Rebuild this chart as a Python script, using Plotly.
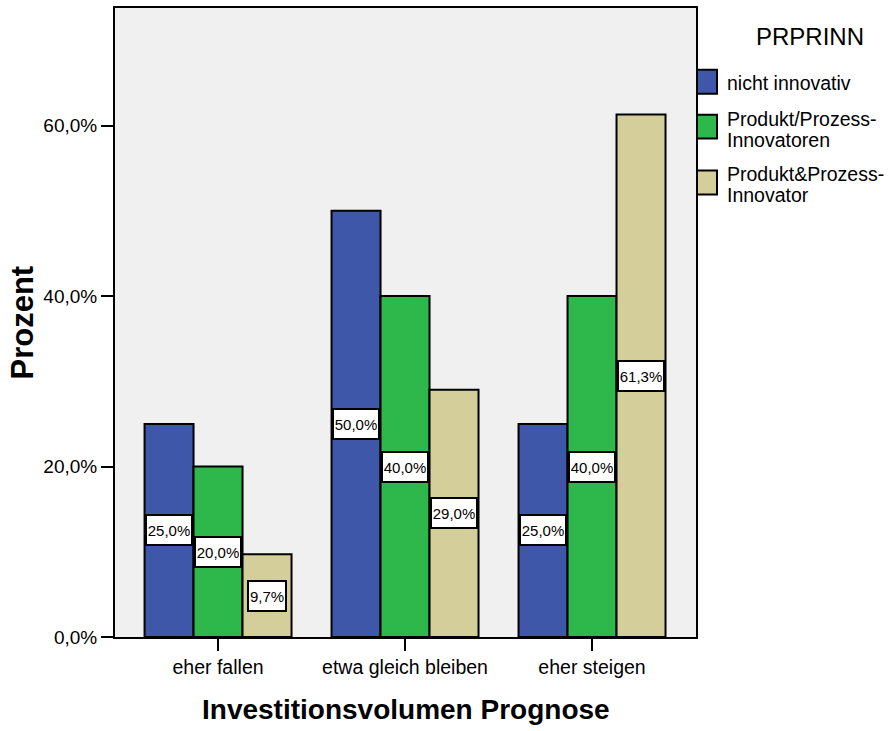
import plotly.graph_objects as go

# Investment-volume forecast by innovation type (percent within group)
categories = ["eher fallen", "etwa gleich bleiben", "eher steigen"]
series_names = ["nicht innovativ", "Produkt/Prozess-Innovatoren", "Produkt&Prozess-Innovator"]
legend_lines = [["nicht innovativ"], ["Produkt/Prozess-", "Innovatoren"], ["Produkt&Prozess-", "Innovator"]]
nicht_innovativ = [25.0, 50.0, 25.0]
produkt_oder_prozess = [20.0, 40.0, 40.0]
produkt_und_prozess = [9.7, 29.0, 61.3]
y_ticks = [0, 20, 40, 60]
y_tick_labels = ["0,0%", "20,0%", "40,0%", "60,0%"]
legend_title = "PRPRINN"
x_title = "Investitionsvolumen Prognose"
y_title = "Prozent"

colors = ["#3E57A8", "#2EB74B", "#D4CF9A"]
series_values = [nicht_innovativ, produkt_oder_prozess, produkt_und_prozess]

FONT = "Liberation Sans, Arial, sans-serif"
W, H = 889, 731
M = dict(l=115, r=193, t=6, b=94)
plot_w = W - M["l"] - M["r"]
plot_h = H - M["t"] - M["b"]

bargap = 0.214
bar_w = (1 - bargap) / len(series_values)

fig = go.Figure()
for name, vals, col in zip(series_names, series_values, colors):
    fig.add_trace(go.Bar(
        x=categories, y=vals, name=name,
        marker=dict(color=col, line=dict(color="black", width=2)),
        showlegend=False, hoverinfo="x+y",
    ))


def fmt(v):
    return f"{v:.1f}".replace(".", ",") + "%"


annotations = []
# value boxes at mid-height of each bar
for si, vals in enumerate(series_values):
    offset = (si - (len(series_values) - 1) / 2) * bar_w
    for ci, v in enumerate(vals):
        label = fmt(v)
        annotations.append(dict(
            x=ci + offset, y=v / 2, xref="x", yref="y",
            text=label, showarrow=False,
            font=dict(family=FONT, size=15, color="black"),
            bgcolor="white", bordercolor="black", borderwidth=2, borderpad=1,
            width=42 if len(label) > 4 else 34, height=26,
            xanchor="center", yanchor="middle",
        ))

# axis titles
annotations.append(dict(
    x=0.5, y=0, xref="paper", yref="paper", yshift=-72,
    text=f"<b>{x_title}</b>", showarrow=False,
    font=dict(family=FONT, size=28, color="black"),
    xanchor="center", yanchor="middle",
))
annotations.append(dict(
    x=0, y=0.5, xref="paper", yref="paper", xshift=-93,
    text=f"<b>{y_title}</b>", showarrow=False, textangle=-90,
    font=dict(family=FONT, size=31, color="black"),
    xanchor="center", yanchor="middle",
))

# legend drawn beside the plot frame
def px_x(px):
    return (px - M["l"]) / plot_w


def px_y(py):
    return 1 - (py - M["t"]) / plot_h


annotations.append(dict(
    x=px_x(810), y=px_y(35), xref="paper", yref="paper",
    text=legend_title, showarrow=False,
    font=dict(family=FONT, size=24, color="black"),
    xanchor="center", yanchor="middle",
))

shapes = []
swatch_tops = [68, 113, 169]
line_centers = [[81], [117, 138], [173, 194]]
for col, top, lines, centers in zip(colors, swatch_tops, legend_lines, line_centers):
    shapes.append(dict(
        type="rect", xref="paper", yref="paper",
        x0=px_x(697), x1=px_x(717), y0=px_y(top), y1=px_y(top + 24),
        fillcolor=col, line=dict(color="black", width=2),
    ))
    for txt, cy in zip(lines, centers):
        annotations.append(dict(
            x=px_x(725), y=px_y(cy), xref="paper", yref="paper",
            text=txt, showarrow=False,
            font=dict(family=FONT, size=19.5, color="black"),
            xanchor="left", yanchor="middle",
        ))

fig.update_layout(
    width=W, height=H, margin=M,
    paper_bgcolor="white", plot_bgcolor="#F0F0F0",
    barmode="group", bargap=bargap, bargroupgap=0,
    font=dict(family=FONT, size=19.5, color="black"),
    annotations=annotations, shapes=shapes,
    xaxis=dict(
        type="category", range=[-0.551, 2.556],
        showline=True, linecolor="black", linewidth=2, mirror=True,
        ticks="outside", ticklen=12, tickwidth=2, tickcolor="black",
        showgrid=False, tickfont=dict(family=FONT, size=19.5),
    ),
    yaxis=dict(
        range=[0, 73.8], tickvals=y_ticks, ticktext=y_tick_labels,
        showline=True, linecolor="black", linewidth=2, mirror=True,
        ticks="outside", ticklen=12, tickwidth=2, tickcolor="black",
        showgrid=False, zeroline=False, tickfont=dict(family=FONT, size=19),
    ),
)

fig.write_html("out.html")
